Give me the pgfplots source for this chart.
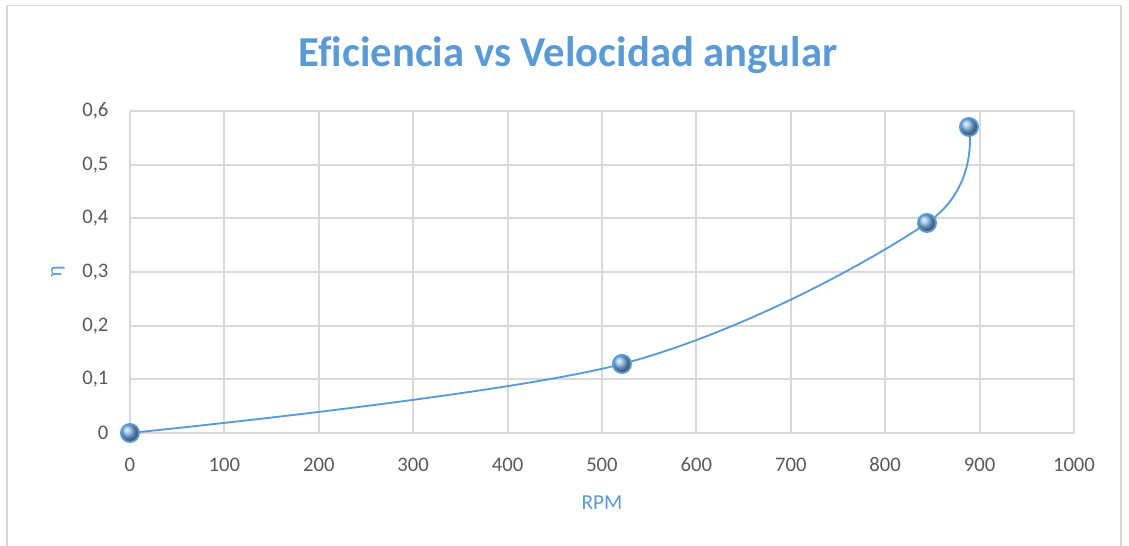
\documentclass[border=0pt]{standalone}
\usepackage{pgfplots}
\pgfplotsset{compat=1.18}
\usepackage{fontspec}
\setmainfont{Carlito}[Ligatures=CommonOff]
\usetikzlibrary{shadings}
\definecolor{accent}{HTML}{5B9BD5}
\definecolor{ballc}{HTML}{7DB4EA}
\definecolor{gridc}{HTML}{D9D9D9}
\definecolor{tickc}{HTML}{595959}
\begin{document}
\begin{tikzpicture}
\begin{axis}[
  at={(0,0)}, anchor=south west,
  scale only axis,
  width=708pt, height=241.5pt,
  xmin=0, xmax=1000, ymin=0, ymax=0.6,
  xtick={0,100,...,1000},
  ytick={0,0.1,...,0.6},
  grid=major,
  major grid style={gridc, line width=1.4pt},
  axis line style={gridc, line width=1.4pt},
  axis x line*=bottom,
  axis y line*=left,
  y axis line style={draw=none},
  tick style={draw=none},
  clip=false,
  /pgf/number format/assume math mode=true,
  /pgf/number format/use comma,
  /pgf/number format/fixed,
  /pgf/number format/1000 sep={},
  xticklabel style={font=\fontsize{15.5}{18}\selectfont, text=tickc, anchor=base, yshift=-29pt, inner sep=0pt},
  yticklabel style={font=\fontsize{15.5}{18}\selectfont, text=tickc, anchor=east, xshift=-16pt, inner sep=0pt},
  scaled y ticks=false,
  scaled x ticks=false,
]
\addplot[accent, line width=1.4pt, smooth, tension=0.55,
  mark=ball, mark size=6.8pt,
  mark options={ball color=ballc}]
  coordinates {(0,0) (521.2,0.1286) (844.3,0.3913) (888.8,0.5702)};
\draw[gridc, line width=0.8pt] (rel axis cs:-0.1303,1.329) rectangle (rel axis cs:1.0498,-0.40);
\node[font=\fontsize{32}{36}\selectfont\bfseries, text=accent, anchor=base]
  at (rel axis cs:0.464,1.137) {Eficiencia vs Velocidad angular};
\node[font=\fontsize{16}{19}\selectfont, text=accent, anchor=center]
  at (rel axis cs:0.5,-0.2174) {RPM};
\node[font=\fontsize{16}{19}\selectfont, text=accent, anchor=center, rotate=90]
  at (rel axis cs:-0.0763,0.5) {η};
\coordinate (bbA) at (rel axis cs:-0.1377,-0.3509);
\coordinate (bbB) at (rel axis cs:1.0583,1.3447);
\end{axis}
\pgfresetboundingbox
\useasboundingbox (bbA) rectangle (bbB);
\end{tikzpicture}
\end{document}
